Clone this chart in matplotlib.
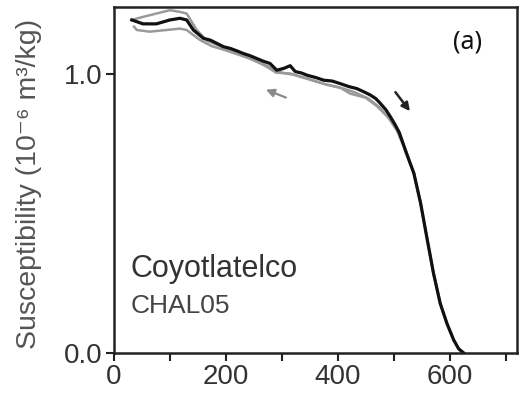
import matplotlib
matplotlib.use("Agg")
import matplotlib.pyplot as plt

# Heating curve (black)
T_heat = [32, 52, 76, 100, 118, 130, 142, 160, 172, 184, 196, 208, 220, 231, 243, 255, 267, 279, 291, 303,
          315, 324, 335, 345, 360, 375, 390, 404, 420, 434, 448, 458, 468, 476, 486, 494, 502, 510, 522,
          536, 548, 560, 571, 583, 595, 607, 616, 625]
chi_heat = [1.194, 1.18, 1.18, 1.194, 1.20, 1.194, 1.158, 1.128, 1.122, 1.11, 1.098, 1.092, 1.083, 1.074,
            1.066, 1.056, 1.046, 1.038, 1.014, 1.02, 1.03, 1.009, 1.004, 0.996, 0.988, 0.978, 0.975, 0.966,
            0.955, 0.948, 0.935, 0.925, 0.912, 0.895, 0.872, 0.847, 0.82, 0.79, 0.72,
            0.644, 0.537, 0.405, 0.286, 0.178, 0.106, 0.047, 0.015, 0.0]

# Cooling curves (gray)
T_cool1 = [32, 52, 76, 100, 118, 130, 148, 166, 190, 220, 243, 270, 290, 315, 345, 375, 404, 422, 450,
           470, 490, 505, 520, 536, 548, 560, 571, 583, 595, 607, 616, 625]
chi_cool1 = [1.194, 1.205, 1.217, 1.229, 1.223, 1.217, 1.158, 1.12, 1.10, 1.078, 1.056, 1.03, 1.005,
             1.002, 0.985, 0.965, 0.952, 0.93, 0.915, 0.885, 0.845, 0.80, 0.73, 0.644, 0.537, 0.405,
             0.286, 0.178, 0.106, 0.047, 0.015, 0.0]
T_cool2 = [36, 41, 64, 94, 118, 130, 154, 175, 200, 225, 250, 275, 300, 320, 350, 380, 410, 430, 455,
           475, 492, 508, 522, 536, 548, 560, 571, 583, 595, 607, 616, 625]
chi_cool2 = [1.17, 1.158, 1.152, 1.158, 1.163, 1.158, 1.122, 1.10, 1.085, 1.068, 1.05, 1.028, 1.005,
             0.998, 0.98, 0.962, 0.948, 0.935, 0.912, 0.88, 0.84, 0.795, 0.725, 0.644, 0.537, 0.405,
             0.286, 0.178, 0.106, 0.047, 0.015, 0.0]

x_major = [0, 200, 400, 600]
x_minor = [100, 300, 500, 700]
y_major = [0.0, 1.0]
y_labels = ["0.0", "1.0"]

plt.rcParams['font.family'] = ['Liberation Sans', 'DejaVu Sans']

fig = plt.figure(figsize=(5.2, 3.96), dpi=100)
ax = fig.add_axes([0.219, 0.1086, 0.775, 0.8734])

gray = '#9a9a9a'
ax.plot(T_cool1, chi_cool1, color=gray, lw=1.8, solid_joinstyle='round')
ax.plot(T_cool2, chi_cool2, color=gray, lw=1.8, solid_joinstyle='round')
ax.plot(T_heat, chi_heat, color='#111111', lw=2.3, solid_joinstyle='round')

ax.annotate('', xy=(267, 0.948), xytext=(312, 0.912),
            arrowprops=dict(arrowstyle='-|>', color='#8a8a8a', lw=1.6, mutation_scale=12))
ax.annotate('', xy=(532, 0.859), xytext=(500, 0.943),
            arrowprops=dict(arrowstyle='-|>', color='#222222', lw=1.8, mutation_scale=12))

ax.set_xlim(0, 720)
ax.set_ylim(0, 1.24)
ax.set_xticks(x_major)
ax.set_xticks(x_minor, minor=True)
ax.set_yticks(y_major)
ax.set_yticklabels(y_labels)

for s in ax.spines.values():
    s.set_linewidth(1.8)
    s.set_color('#222222')
ax.tick_params(axis='both', which='major', direction='out', length=6, width=1.5,
               labelsize=20, colors='#222222', labelcolor='#333333', pad=2)
ax.tick_params(axis='x', which='minor', direction='out', length=6, width=1.5, colors='#222222')

ax.set_ylabel('Susceptibility (10\u207b\u2076 m\u00b3/kg)', fontsize=20.5, color='#555555')
ax.yaxis.set_label_coords(-0.178, 0.49)

ax.text(30, 0.30, 'Coyotlatelco', fontsize=22, color='#333333', ha='left', va='center')
ax.text(30, 0.17, 'CHAL05', fontsize=19, color='#444444', ha='left', va='center')
ax.text(632, 1.115, '(a)', fontsize=18, color='#111111', ha='center', va='center',
        family=['Noto Sans', 'DejaVu Sans'])

fig.savefig('out.png', dpi=100)
